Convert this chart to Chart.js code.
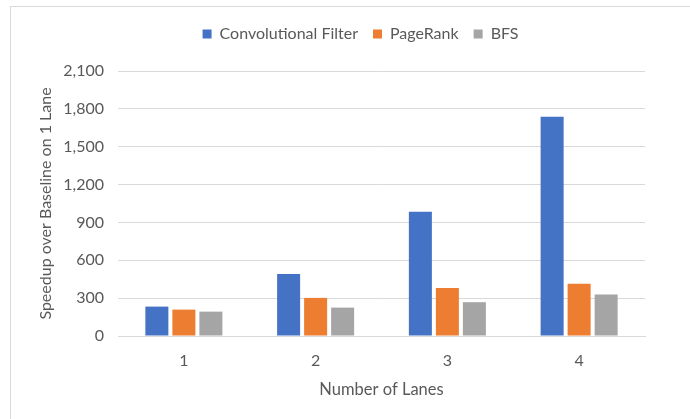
<!DOCTYPE html>
<html>
<head>
<meta charset="utf-8">
<script src="https://cdn.jsdelivr.net/npm/chart.js@4.4.1/dist/chart.umd.min.js"></script>
<style>
  html, body { margin: 0; padding: 0; background: #fff; overflow: hidden; }
  #frame { position: absolute; left: 10px; top: 6px; width: 720px; height: 440px;
           border-left: 1px solid #d9d9d9; border-top: 1px solid #d9d9d9; }
  #wrap { position: absolute; left: 0; top: 0; width: 690px; height: 419px; }
</style>
</head>
<body>
<div id="frame"></div>
<div id="wrap"><canvas id="c" width="690" height="419"></canvas></div>
<script>
const lanes = ['1', '2', '3', '4'];
const convolutionalFilter = [233, 491, 984, 1737];
const pageRank = [209, 302, 380, 414];
const bfs = [193, 225, 268, 329];
const yTicks = [0, 300, 600, 900, 1200, 1500, 1800, 2100];

const textColor = '#595959';
const gridColor = '#d9d9d9';
const fontFamily = 'Lato, "Open Sans", sans-serif';

Chart.defaults.font.family = fontFamily;
Chart.defaults.color = textColor;

// Extra space under the legend, and a small horizontal nudge so it sits centred over the page
const legendTweak = {
  id: 'legendTweak',
  beforeInit(chart) {
    const legend = chart.legend;
    const fit = legend.fit;
    legend.fit = function () {
      fit.call(this);
      this.height += 19;
    };
  },
  afterLayout(chart) {
    chart.legend.left += 20;
    chart.legend.right += 20;
  }
};

new Chart(document.getElementById('c'), {
  type: 'bar',
  data: {
    labels: lanes,
    datasets: [
      { label: 'Convolutional Filter', data: convolutionalFilter, backgroundColor: '#4472c4' },
      { label: 'PageRank', data: pageRank, backgroundColor: '#ed7d31' },
      { label: 'BFS', data: bfs, backgroundColor: '#a5a5a5' }
    ]
  },
  plugins: [legendTweak],
  options: {
    responsive: false,
    animation: false,
    devicePixelRatio: 1,
    datasets: { bar: { categoryPercentage: 0.615, barPercentage: 0.852 } },
    layout: { padding: { left: 36, right: 45, top: 11, bottom: 19 } },
    plugins: {
      tooltip: { enabled: false },
      legend: {
        position: 'top',
        labels: {
          boxWidth: 9, boxHeight: 9, padding: 15,
          font: { size: 16 }, color: textColor
        }
      }
    },
    scales: {
      x: {
        afterFit: (scale) => { scale.height = 64; },
        grid: { display: false, drawTicks: false },
        border: { color: gridColor, width: 1 },
        ticks: { padding: 15, font: { size: 16 }, color: textColor },
        title: { display: true, text: 'Number of Lanes', font: { size: 16.5 }, color: textColor, padding: { top: 0, bottom: 0 } }
      },
      y: {
        min: 0, max: 2100,
        afterBuildTicks: (scale) => { scale.ticks = yTicks.map(v => ({ value: v })); },
        afterFit: (scale) => { scale.width = 82; },
        grid: { color: gridColor, drawTicks: false, lineWidth: 1 },
        border: { display: false },
        ticks: {
          padding: 14, font: { size: 16 }, color: textColor,
          callback: (v) => v.toLocaleString('en-US')
        },
        title: { display: true, text: 'Speedup over Baseline on 1 Lane', font: { size: 16 }, color: textColor, padding: { top: 0, bottom: 0 } }
      }
    }
  }
});
</script>
</body>
</html>
